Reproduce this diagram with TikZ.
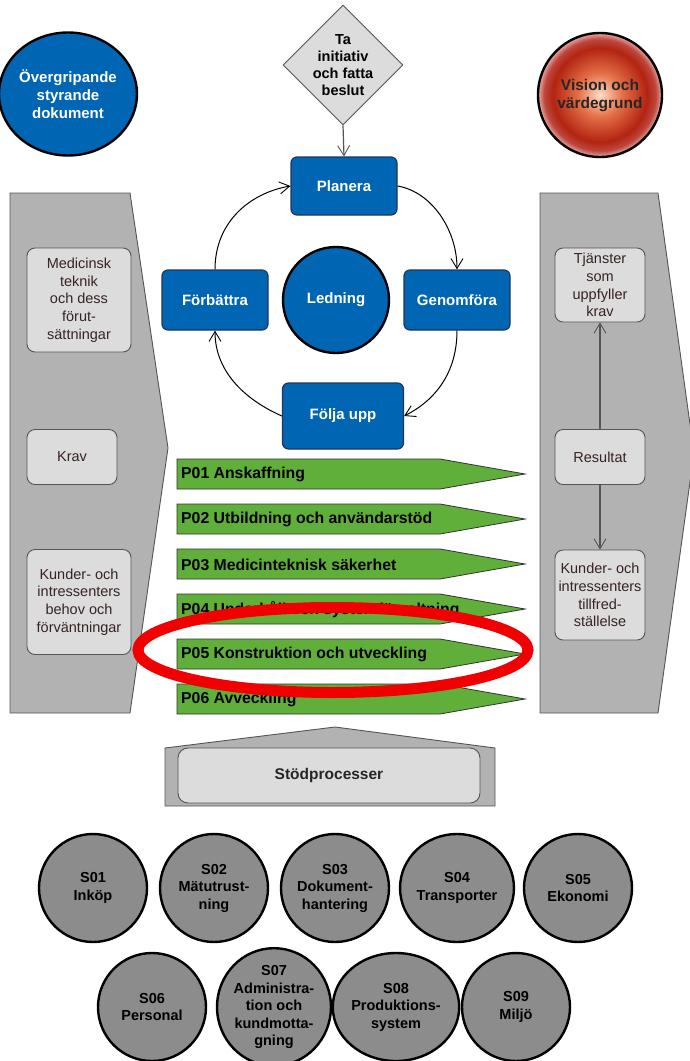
\documentclass[tikz,border=0pt]{standalone}
\usepackage{fontspec}
\setmainfont{Liberation Sans}
\usetikzlibrary{shapes.geometric,arrows.meta}
\definecolor{cblue}{RGB}{0,102,179}
\definecolor{cnavy}{RGB}{30,55,90}
\definecolor{cgreen}{RGB}{96,175,58}
\definecolor{cgray}{RGB}{178,178,178}
\definecolor{clight}{RGB}{220,220,220}
\definecolor{ccirc}{RGB}{140,140,140}
\definecolor{cline}{RGB}{85,85,85}
\definecolor{ctext}{RGB}{55,35,35}
\definecolor{cred}{RGB}{240,0,0}
\definecolor{vA}{RGB}{252,222,200}
\definecolor{vB}{RGB}{228,110,70}
\definecolor{vC}{RGB}{178,36,18}
\definecolor{vD}{RGB}{190,70,60}
\definecolor{vE}{RGB}{232,170,170}
\pgfdeclareradialshading{visionshade}{\pgfpoint{0bp}{0bp}}{color(0bp)=(vA); color(9bp)=(vB); color(19bp)=(vC); color(22.5bp)=(vD); color(25bp)=(vE); color(50bp)=(vE)}
\tikzset{
  bluebox/.style={draw=cnavy, line width=1.2pt, fill=cblue, rounded corners=6pt, inner sep=0pt,
    text=white, font=\fontsize{15}{18}\selectfont\bfseries, align=center},
  bluecirc/.style={draw=black, line width=2.4pt, fill=cblue, ellipse, inner sep=0pt,
    text=white, font=\fontsize{15}{18}\selectfont\bfseries, align=center},
  lightbox/.style={draw=cline, line width=0.9pt, fill=clight, rounded corners=8pt, inner sep=0pt,
    text=ctext, font=\fontsize{14.5}{17.7}\selectfont, align=center},
  bigshape/.style={draw=cline, line width=0.9pt, fill=cgray},
  greenarr/.style={draw=black!80, line width=0.8pt, fill=cgreen},
  gtext/.style={anchor=west, inner sep=0pt, font=\fontsize{15.8}{18}\selectfont\bfseries, text=black},
  scirc/.style={draw=black, line width=2.4pt, fill=ccirc, ellipse, minimum width=108pt, minimum height=108pt,
    inner sep=0pt, font=\fontsize{14.5}{17.5}\selectfont\bfseries, text=black, align=center},
  vtip/.style={-{Straight Barb[length=10pt,width=12pt,line width=0.9pt]}},
  cyc/.style={vtip, draw=black, line width=1pt},
  garr/.style={vtip, draw=cline, line width=1.2pt}
}
\begin{document}
\begin{tikzpicture}[x=1pt,y=-1pt]
\useasboundingbox (0,0) rectangle (690,1061);
\fill[white] (0,0) rectangle (690,1061);

% top circles and diamond
\node[bluecirc, minimum width=121pt, minimum height=123pt] (overg) at (68,94) {Övergripande\\styrande\\dokument};
\path[shading=visionshade, draw=black, line width=2.4pt] (600,95) ellipse (62pt and 62pt);
\node[inner sep=0pt, font=\fontsize{15.5}{18}\selectfont\bfseries, text=black!85, align=center] (vision) at (600,96) {Vision och\\värdegrund};
\node[diamond, draw=cline, line width=0.9pt, fill=clight, minimum width=120pt, minimum height=120pt, inner sep=0pt] (dia) at (343,65) {};
\node[inner sep=0pt, font=\fontsize{14.5}{16.8}\selectfont\bfseries, text=black, align=center] (diatext) at (dia.center) {Ta\\initiativ\\och fatta\\beslut};

% side shapes
\path[bigshape] (10,193) -- (130,193) -- (168,448) -- (130,713) -- (10,713) -- cycle;
\path[bigshape] (540,193) -- (658,193) -- (694,453) -- (658,713) -- (540,713) -- cycle;

% cycle boxes
\node[bluebox, minimum width=106pt, minimum height=58pt] (plan) at (344,186) {Planera};
\node[bluebox, minimum width=106pt, minimum height=60pt] (forb) at (215,300) {Förbättra};
\node[bluebox, minimum width=106pt, minimum height=60pt] (genom) at (457,300) {Genomföra};
\node[bluebox, minimum width=121pt, minimum height=66pt] (folja) at (343,416) {Följa upp};
\node[bluecirc, minimum width=106pt, minimum height=106pt] (led) at (336,300) {Ledning};

\draw[garr] (dia.south) -- (plan.north);
\draw[cyc] (forb.north) .. controls (215,222) and (250,193) .. (plan.west);
\draw[cyc] (plan.east) .. controls (432,192) and (457,230) .. (genom.north);
\draw[cyc] (genom.south) .. controls (457,372) and (436,400) .. (folja.east);
\draw[cyc] (folja.west) .. controls (250,402) and (215,375) .. (forb.south);

% left boxes
\node[lightbox, minimum width=104pt, minimum height=104pt] (med) at (79,300) {Medicinsk\\teknik\\och dess\\förut-\\sättningar};
\node[lightbox, minimum width=90pt, minimum height=55pt] (krav) at (72,457) {Krav};
\node[lightbox, minimum width=104pt, minimum height=105pt] (kund) at (79,602) {Kunder- och\\intressenters\\behov och\\förväntningar};

% right boxes
\node[lightbox, minimum width=90pt, minimum height=74pt] (tjan) at (600,285) {Tjänster\\som\\uppfyller\\krav};
\node[lightbox, minimum width=90pt, minimum height=55pt] (res) at (600,457) {Resultat};
\node[lightbox, minimum width=90pt, minimum height=90pt] (kund2) at (600,595) {Kunder- och\\intressenters\\tillfred-\\ställelse};
\draw[garr] (res.north) -- (tjan.south);
\draw[garr] (res.south) -- (kund2.north);

% green process arrows
\foreach \y/\nm/\txt in {459/p1/{P01 Anskaffning}, 504/p2/{P02 Utbildning och användarstöd}, 549/p3/{P03 Medicinteknisk säkerhet}, 594/p4/{P04 Underhåll och systemförvaltning}, 639/p5/{P05 Konstruktion och utveckling}, 684/p6/{P06 Avveckling}}{
  \path[greenarr] (177,\y) -- (440,\y) -- (525,\y+15) -- (440,\y+30) -- (177,\y+30) -- cycle;
  \node[gtext] (\nm) at (181,\y+15.5) {\txt};
}

% support processes
\path[bigshape] (165,748) -- (335,727) -- (495,748) -- (495,806) -- (165,806) -- cycle;
\node[lightbox, minimum width=302pt, minimum height=55pt, rounded corners=10pt, text=black!85,
  font=\fontsize{15.5}{18}\selectfont\bfseries] (stod) at (329,775.5) {Stödprocesser};

\node[scirc] (s1) at (93,888) {S01\\Inköp};
\node[scirc] (s2) at (214,888) {S02\\Mätutrust-\\ning};
\node[scirc] (s3) at (335,888) {S03\\Dokument-\\hantering};
\node[scirc] (s4) at (457,888) {S04\\Transporter};
\node[scirc] (s5) at (578,888) {S05\\Ekonomi};
\node[scirc] (s6) at (152,1007) {S06\\Personal};
\node[scirc] (s7) at (274,1007) {S07\\Administra-\\tion och\\kundmotta-\\gning};
\node[scirc] (s8) at (396,1007) {S08\\Produktions-\\system};
\node[scirc] (s9) at (516,1007) {S09\\Miljö};

% red highlight ellipse
\draw[cred, line width=11pt] (333,650) ellipse (195pt and 42.5pt);
\end{tikzpicture}
\end{document}
